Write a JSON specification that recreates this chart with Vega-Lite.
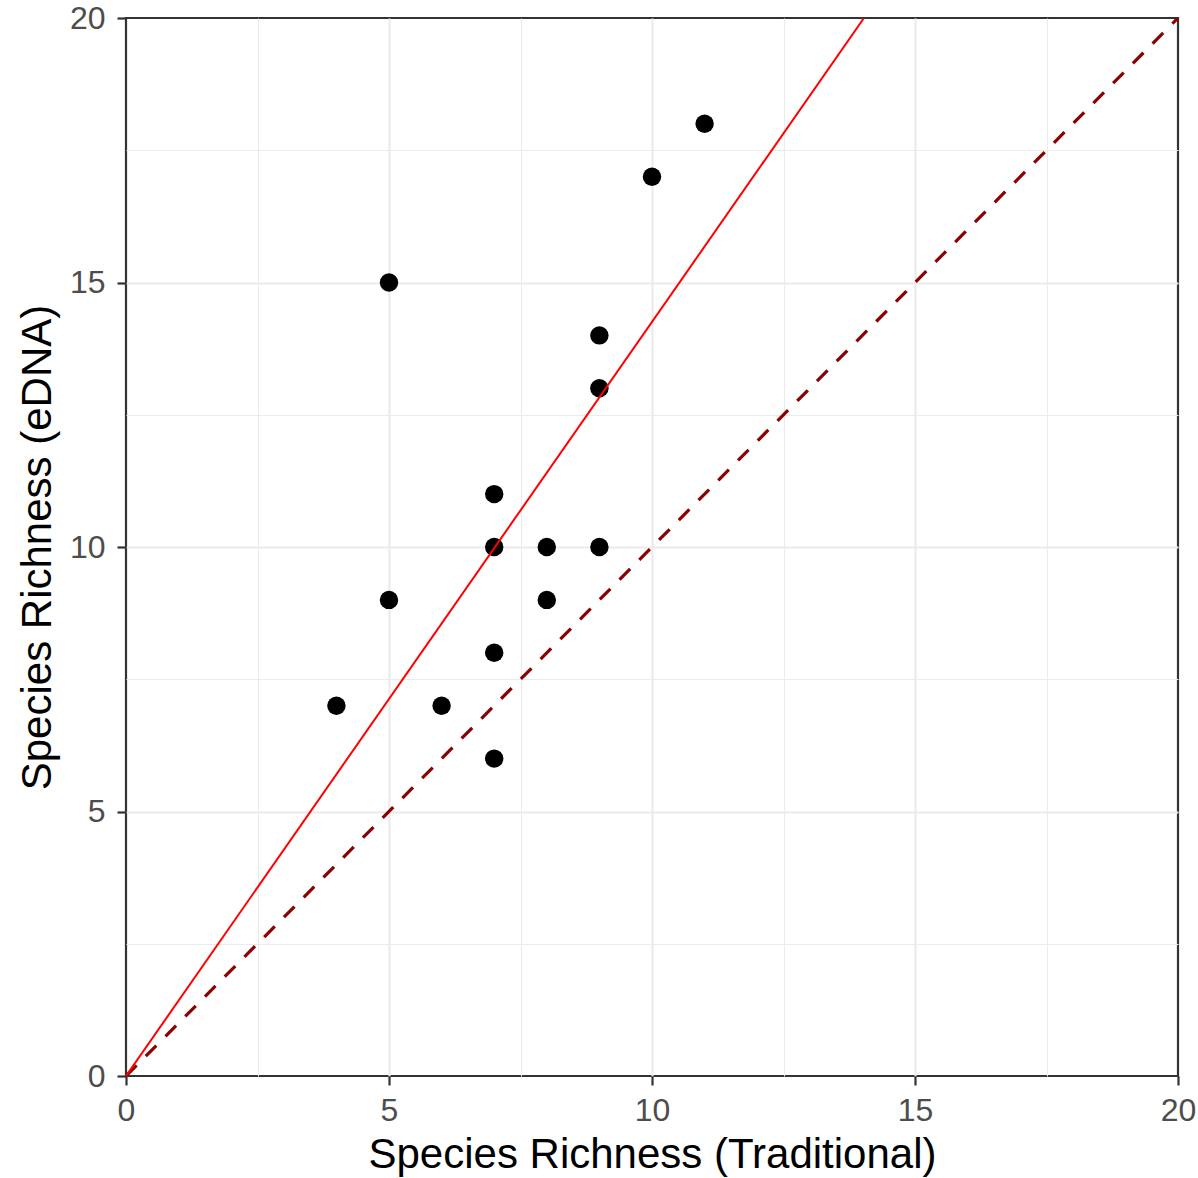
{
  "$schema": "https://vega.github.io/schema/vega-lite/v6.json",
  "width": 1052,
  "height": 1058,
  "autosize": {"type": "none"},
  "padding": {"left": 126, "top": 18, "right": 20, "bottom": 102},
  "background": "white",
  "config": {
    "view": {"stroke": "#333333", "strokeWidth": 2.2},
    "font": "Liberation Sans"
  },
  "datasets": {
    "points": [
      {"trad": 4, "edna": 7},
      {"trad": 5, "edna": 15},
      {"trad": 5, "edna": 9},
      {"trad": 6, "edna": 7},
      {"trad": 7, "edna": 11},
      {"trad": 7, "edna": 10},
      {"trad": 7, "edna": 8},
      {"trad": 7, "edna": 6},
      {"trad": 8, "edna": 10},
      {"trad": 8, "edna": 9},
      {"trad": 9, "edna": 14},
      {"trad": 9, "edna": 13},
      {"trad": 9, "edna": 10},
      {"trad": 10, "edna": 17},
      {"trad": 11, "edna": 18}
    ],
    "fit": [
      {"trad": 0, "edna": 0},
      {"trad": 14.03, "edna": 20}
    ],
    "identity": [
      {"trad": 0, "edna": 0},
      {"trad": 20, "edna": 20}
    ]
  },
  "encoding": {
    "x": {
      "field": "trad", "type": "quantitative",
      "scale": {"domain": [0, 20], "nice": false, "zero": false},
      "axis": {
        "title": "Species Richness (Traditional)",
        "values": [0, 2.5, 5, 7.5, 10, 12.5, 15, 17.5, 20],
        "labelExpr": "datum.value % 5 === 0 ? datum.label : ''",
        "domain": false,
        "grid": true,
        "gridColor": "#EBEBEB",
        "gridWidth": {"condition": {"test": "datum.value % 5 === 0", "value": 2.2}, "value": 1.1},
        "gridOpacity": {"condition": {"test": "datum.value === 0 || datum.value === 20", "value": 0}, "value": 1},
        "tickColor": "#333333",
        "tickWidth": 2.2,
        "tickSize": 9,
        "tickOpacity": {"condition": {"test": "datum.value % 5 === 0", "value": 1}, "value": 0},
        "labelFont": "Liberation Sans",
        "labelFontSize": 32,
        "labelColor": "#4D4D4D",
        "labelPadding": 10,
        "labelFlush": false,
        "labelOverlap": false,
        "titleFont": "Liberation Sans",
        "titleFontSize": 42,
        "titleFontWeight": "normal",
        "titleColor": "#000000",
        "titlePadding": 8
      }
    },
    "y": {
      "field": "edna", "type": "quantitative",
      "scale": {"domain": [0, 20], "nice": false, "zero": false},
      "axis": {
        "title": "Species Richness (eDNA)",
        "values": [0, 2.5, 5, 7.5, 10, 12.5, 15, 17.5, 20],
        "labelExpr": "datum.value % 5 === 0 ? datum.label : ''",
        "domain": false,
        "grid": true,
        "gridColor": "#EBEBEB",
        "gridWidth": {"condition": {"test": "datum.value % 5 === 0", "value": 2.2}, "value": 1.1},
        "gridOpacity": {"condition": {"test": "datum.value === 0 || datum.value === 20", "value": 0}, "value": 1},
        "tickColor": "#333333",
        "tickWidth": 2.2,
        "tickSize": 9,
        "tickOpacity": {"condition": {"test": "datum.value % 5 === 0", "value": 1}, "value": 0},
        "labelFont": "Liberation Sans",
        "labelFontSize": 32,
        "labelColor": "#4D4D4D",
        "labelPadding": 12,
        "labelFlush": false,
        "labelOverlap": false,
        "titleFont": "Liberation Sans",
        "titleFontSize": 42,
        "titleFontWeight": "normal",
        "titleColor": "#000000",
        "titlePadding": 10
      }
    }
  },
  "layer": [
    {
      "data": {"name": "points"},
      "mark": {"type": "circle", "size": 340, "color": "black", "opacity": 1}
    },
    {
      "data": {"name": "identity"},
      "mark": {"type": "line", "color": "#8B0000", "strokeWidth": 3.2, "strokeDash": [15, 13], "clip": true}
    },
    {
      "data": {"name": "fit"},
      "mark": {"type": "line", "color": "#FF0000", "strokeWidth": 2, "clip": true}
    }
  ]
}
